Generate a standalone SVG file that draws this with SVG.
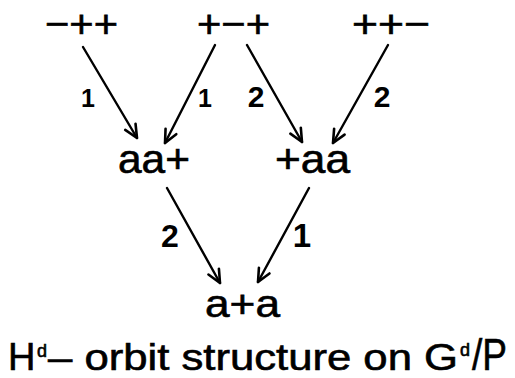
<svg xmlns="http://www.w3.org/2000/svg" width="515" height="378" viewBox="0 0 515 378">
<style>
.t{font-family:"Liberation Sans","DejaVu Sans",sans-serif;fill:#000;stroke:#000;stroke-width:0.6}
.l{font-family:"Liberation Sans","DejaVu Sans",sans-serif;fill:#000;font-weight:bold;text-anchor:middle}
.e{stroke:#000;stroke-width:2.4;fill:none;stroke-linecap:round}
</style>
<defs>
<marker id="ah" viewBox="-16 -10 20 20" markerWidth="20" markerHeight="20" refX="0" refY="0" orient="auto" markerUnits="userSpaceOnUse">
<path d="M -13 -6 L 0 0 L -13 6" fill="none" stroke="#000" stroke-width="2.6" stroke-linecap="round" stroke-linejoin="round"/>
</marker>
</defs>
<rect width="515" height="378" fill="#fff"/>
<g id="n1"><text class="t" x="45" y="37" font-size="38" textLength="73" lengthAdjust="spacingAndGlyphs">−++</text></g>
<g id="n2"><text class="t" x="197" y="37" font-size="38" textLength="73" lengthAdjust="spacingAndGlyphs">+−+</text></g>
<g id="n3"><text class="t" x="352" y="37" font-size="38" textLength="78" lengthAdjust="spacingAndGlyphs">++−</text></g>
<g id="n4"><text class="t" x="118" y="173" font-size="40" textLength="72" lengthAdjust="spacingAndGlyphs">aa+</text></g>
<g id="n5"><text class="t" x="275" y="173" font-size="40" textLength="75" lengthAdjust="spacingAndGlyphs">+aa</text></g>
<g id="n6"><text class="t" x="205" y="317" font-size="38" textLength="75" lengthAdjust="spacingAndGlyphs">a+a</text></g>
<g id="connectors">
<line class="e" x1="83" y1="47" x2="137" y2="138" marker-end="url(#ah)"/>
<line class="e" x1="215" y1="45" x2="165" y2="143" marker-end="url(#ah)"/>
<line class="e" x1="247" y1="45" x2="302" y2="142" marker-end="url(#ah)"/>
<line class="e" x1="388" y1="45" x2="333" y2="143" marker-end="url(#ah)"/>
<line class="e" x1="167" y1="188" x2="220" y2="283" marker-end="url(#ah)"/>
<line class="e" x1="309" y1="188" x2="258" y2="282" marker-end="url(#ah)"/>
<text class="l" x="88" y="107" font-size="25">1</text>
<text class="l" x="205" y="107" font-size="25">1</text>
<text class="l" x="256" y="107" font-size="30">2</text>
<text class="l" x="382" y="107" font-size="30">2</text>
<text class="l" x="170" y="247" font-size="32">2</text>
<text class="l" x="302" y="247" font-size="33">1</text>
</g>
<g id="caption">
<text class="t" x="8" y="370" font-size="38">H</text>
<text class="t" x="37" y="357" font-size="18">d</text>
<text class="t" x="48" y="370" font-size="36" textLength="410" lengthAdjust="spacingAndGlyphs">– orbit structure on G</text>
<text class="t" x="460" y="356" font-size="18">d</text>
<text class="t" x="472" y="370" font-size="44" textLength="35" lengthAdjust="spacingAndGlyphs">/P</text>
</g>
</svg>
